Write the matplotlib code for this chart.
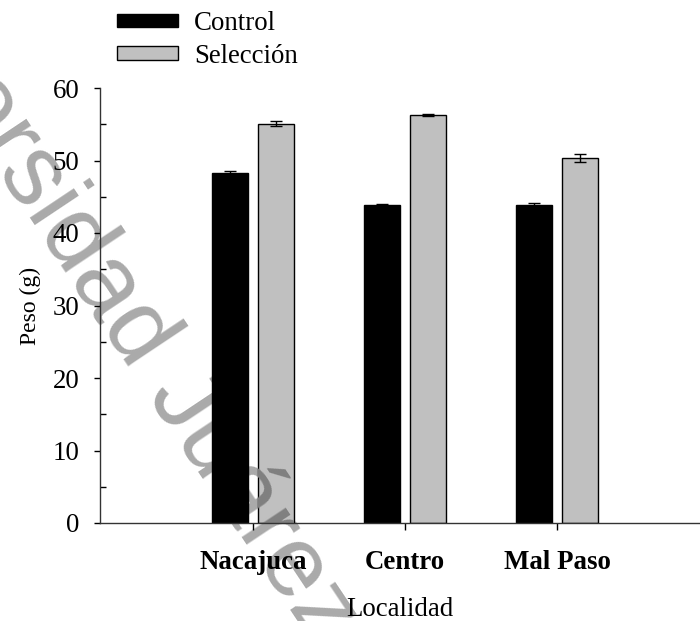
import matplotlib
matplotlib.use("Agg")
import matplotlib.pyplot as plt
import numpy as np
from matplotlib.ticker import MultipleLocator

categories = ["Nacajuca", "Centro", "Mal Paso"]
control = [48.3, 43.9, 43.9]
control_err = [0.2, 0.15, 0.3]
seleccion = [55.1, 56.3, 50.3]
seleccion_err = [0.3, 0.15, 0.55]
series_labels = ["Control", "Selección"]
y_ticks = [0, 10, 20, 30, 40, 50, 60]
watermark = "Universidad Juárez Autónoma de Tabasco"

plt.rcParams['font.family'] = ['Liberation Serif', 'DejaVu Serif']

fig = plt.figure(figsize=(7, 6.21), dpi=100)
ax = fig.add_axes([100/700, 98/621, 600/700, 435/621])
ax.patch.set_visible(False)

wm_kw = dict(family=['Liberation Sans', 'DejaVu Sans'], fontsize=73, rotation=-56.3,
             rotation_mode='anchor', ha='left', va='baseline')
wm_pos = (-0.238, 1.1186)
# watermark behind everything
fig.text(wm_pos[0], wm_pos[1], watermark, color='#aaaaaa', zorder=-1, **wm_kw)

x = np.arange(len(categories))
w = 0.237
off = 0.152
ekw = dict(ecolor='black', elinewidth=1, capthick=1, zorder=3)
b1 = ax.bar(x - off, control, w, color='black', edgecolor='black', linewidth=1,
            yerr=control_err, capsize=4.5, error_kw=ekw,
            label=series_labels[0], zorder=2)
b2 = ax.bar(x + off, seleccion, w, color='#c0c0c0', edgecolor='black', linewidth=1,
            yerr=seleccion_err, capsize=4.5, error_kw=ekw,
            label=series_labels[1], zorder=2)

# multiply-like darkening of the watermark where it crosses the grey bars
for patch in b2.patches:
    t = ax.text(wm_pos[0], wm_pos[1], watermark, color='#808080', zorder=2.5,
                transform=fig.transFigure, **wm_kw)
    t.set_clip_path(patch)
    t.set_clip_on(True)

ax.set_xlim(-1.007, 2.94)
ax.set_ylim(0, 60)
ax.set_yticks(y_ticks)
ax.yaxis.set_minor_locator(MultipleLocator(5))
ax.set_xticks(x)
ax.set_xticklabels(categories, fontweight='bold', fontsize=19.4)
ax.tick_params(axis='y', which='major', direction='out', length=4, width=1, labelsize=19.4, pad=11)
ax.tick_params(axis='y', which='minor', direction='in', length=4, width=1)
ax.tick_params(axis='x', which='major', direction='out', length=5, width=1, pad=14.6)
for s in ['top', 'right']:
    ax.spines[s].set_visible(False)
for s in ['left', 'bottom']:
    ax.spines[s].set_linewidth(1.0)
    ax.spines[s].set_color('#333333')

ax.set_ylabel("Peso (g)", fontsize=17, labelpad=8)
ax.set_xlabel("Localidad", fontsize=19.4, labelpad=16)

leg = fig.legend(handles=[b1, b2], labels=series_labels, loc='upper left',
                 bbox_to_anchor=(117/700, 1 - 11/621), frameon=False, fontsize=19.4,
                 borderpad=0, borderaxespad=0, handlelength=2.26, handleheight=0.38,
                 handletextpad=0.6, labelspacing=0.28)

fig.savefig("out.png", dpi=100)
